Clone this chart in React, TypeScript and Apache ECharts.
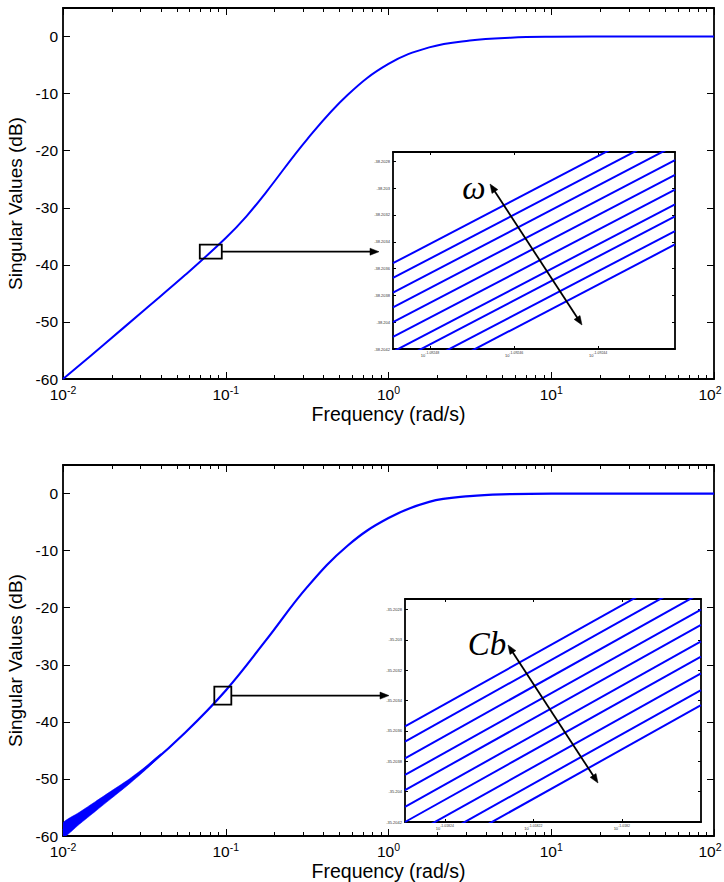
import React, { useEffect, useRef } from "react";
import * as echarts from "echarts";

// ---------- DATA ----------
// x values are log10(frequency in rad/s), y values are singular values in dB
const topLogFreq = [-2.0, -1.75, -1.5, -1.25, -1.0, -0.873, -0.75, -0.5, -0.25, 0.0, 0.25, 0.5, 0.75, 1.0, 1.5, 2.0];
const topDb = [-60.0, -54.0, -47.9, -41.8, -35.3, -31.5, -27.2, -18.0, -10.2, -4.8, -1.9, -0.7, -0.2, -0.05, 0, 0];

const botLogFreq = [-2.0, -1.75, -1.5, -1.25, -1.0, -0.75, -0.5, -0.25, 0.0, 0.25, 0.5, 0.75, 1.0, 1.5, 2.0];
const botDb = [-59.0, -53.75, -48.3, -41.9, -34.5, -25.6, -16.4, -9.1, -4.3, -1.45, -0.45, -0.1, 0.0, 0.0, 0.0];

// spread of the family of curves at low frequency (bottom panel)
const bandLogFreq = [-2.0, -1.9, -1.8, -1.7, -1.6, -1.5, -1.4];
const bandUpperDb = [-57.7, -55.85, -53.95, -52.05, -50.15, -48.0, -45.6];
const bandLowerDb = [-60.3, -57.95, -55.65, -53.35, -51.05, -48.6, -45.9];

const xMajorTicks = [-2, -1, 0, 1, 2];
const yMainTicks = [-60, -50, -40, -30, -20, -10, 0];
const yMainRange = [-60, 5];
const xMainRange = [-2, 2];

// zoomed points (the small boxes)
const topZoomPoint = [-1.092, -37.7];
const botZoomPoint = [-1.018, -35.4];

// insets
const topInsetXRange = [-1.0924888, -1.0924217];
const topInsetXTicks = [-1.09248, -1.09246, -1.09244];
const topInsetYRange = [-38.2042, -38.20273];
const topInsetYTicks = [-38.2042, -38.204, -38.2038, -38.2036, -38.2034, -38.2032, -38.203, -38.2028];
const topInsetLeftDb = [-38.20356, -38.20367, -38.20378, -38.20389, -38.204, -38.20411, -38.20422, -38.20431, -38.20442, -38.20452];
const topInsetRightDb = [-38.20246, -38.20257, -38.20268, -38.20279, -38.2029, -38.20301, -38.20312, -38.20321, -38.20332, -38.20342];

const botInsetXRange = [-1.018249, -1.0181821];
const botInsetXTicks = [-1.01824, -1.01822, -1.0182];
const botInsetYRange = [-35.2042, -35.20273];
const botInsetYTicks = [-35.2042, -35.204, -35.2038, -35.2036, -35.2034, -35.2032, -35.203, -35.2028];
const botInsetLeftDb = [-35.20357, -35.20367, -35.20378, -35.20389, -35.20399, -35.2041, -35.2042, -35.20431, -35.20442, -35.20452];
const botInsetRightDb = [-35.20248, -35.20258, -35.20269, -35.2028, -35.2029, -35.20301, -35.20311, -35.20322, -35.20333, -35.20343];

// ---------- STYLE / LAYOUT ----------
const W = 724;
const H = 882;
const FONT = "Liberation Sans";
const BLUE = "#0000ff";
const BLACK = "#000";

const minorTicks = [-2, -1, 0, 1].flatMap((d) => [2, 3, 4, 5, 6, 7, 8, 9].map((k) => d + Math.log10(k)));

const frameLine = { show: true, onZero: false, lineStyle: { color: BLACK, width: 1.8 } };
const tickLine = { color: BLACK, width: 1 };

function mainXAxes(gridIndex: number) {
  const common = {
    gridIndex,
    type: "value",
    min: xMainRange[0],
    max: xMainRange[1],
    interval: 1,
    splitLine: { show: false },
  };
  return [
    {
      ...common,
      position: "bottom",
      axisLine: frameLine,
      axisTick: { show: true, inside: true, length: 7, lineStyle: tickLine, customValues: xMajorTicks },
      axisLabel: {
        customValues: xMajorTicks,
        margin: 5,
        formatter: (v: number) =>
          v >= xMainRange[1] ? `{b|10}{e|${Math.round(v)}}` : `{b|10}{s|${Math.round(v)}}`,
        rich: {
          b: { fontSize: 15.5, fontFamily: FONT, color: BLACK, lineHeight: 18, verticalAlign: "bottom" },
          s: { fontSize: 10.5, fontFamily: FONT, color: BLACK, lineHeight: 8, verticalAlign: "top" },
          e: { fontSize: 10.5, fontFamily: FONT, color: BLACK, lineHeight: 8, verticalAlign: "top", padding: [0, 8, 0, 0] },
        },
      },
      name: "Frequency (rad/s)",
      nameLocation: "middle",
      nameGap: 25,
      nameTextStyle: { fontSize: 19.5, fontFamily: FONT, color: BLACK },
    },
    {
      ...common,
      position: "bottom",
      axisLine: { show: false, onZero: false },
      axisTick: { show: true, inside: true, length: 4, lineStyle: tickLine, customValues: minorTicks },
      axisLabel: { show: false },
    },
    {
      ...common,
      position: "top",
      axisLine: frameLine,
      axisTick: { show: true, inside: true, length: 7, lineStyle: tickLine, customValues: xMajorTicks },
      axisLabel: { show: false },
    },
    {
      ...common,
      position: "top",
      axisLine: { show: false, onZero: false },
      axisTick: { show: true, inside: true, length: 4, lineStyle: tickLine, customValues: minorTicks },
      axisLabel: { show: false },
    },
  ];
}

function mainYAxes(gridIndex: number) {
  const common = {
    gridIndex,
    type: "value",
    min: yMainRange[0],
    max: yMainRange[1],
    splitLine: { show: false },
  };
  return [
    {
      ...common,
      position: "left",
      axisLine: frameLine,
      axisTick: { show: true, inside: true, length: 7, lineStyle: tickLine, customValues: yMainTicks },
      axisLabel: { customValues: yMainTicks, fontSize: 15.5, fontFamily: FONT, color: BLACK, margin: 5 },
      name: "Singular Values (dB)",
      nameLocation: "middle",
      nameGap: 29,
      nameTextStyle: { fontSize: 19, fontFamily: FONT, color: BLACK, padding: [0, 20, 0, 0] },
    },
    {
      ...common,
      position: "right",
      axisLine: frameLine,
      axisTick: { show: true, inside: true, length: 7, lineStyle: tickLine, customValues: yMainTicks },
      axisLabel: { show: false },
    },
  ];
}

function insetXAxes(gridIndex: number, range: number[], ticks: number[]) {
  const common = { gridIndex, type: "value", min: range[0], max: range[1], splitLine: { show: false } };
  return [
    {
      ...common,
      position: "bottom",
      axisLine: frameLine,
      axisTick: { show: true, inside: true, length: 3, lineStyle: tickLine, customValues: ticks },
      axisLabel: {
        customValues: ticks,
        margin: 2,
        formatter: (v: number) => `{b|10}{s|${parseFloat(v.toFixed(5))}}`,
        rich: {
          b: { fontSize: 4, fontFamily: FONT, color: "#333", lineHeight: 6, verticalAlign: "bottom" },
          s: { fontSize: 3.5, fontFamily: FONT, color: "#333", lineHeight: 3, verticalAlign: "top" },
        },
      },
    },
    {
      ...common,
      position: "top",
      axisLine: frameLine,
      axisTick: { show: true, inside: true, length: 3, lineStyle: tickLine, customValues: ticks },
      axisLabel: { show: false },
    },
  ];
}

function insetYAxes(gridIndex: number, range: number[], ticks: number[]) {
  const common = { gridIndex, type: "value", min: range[0], max: range[1], splitLine: { show: false } };
  return [
    {
      ...common,
      position: "left",
      axisLine: frameLine,
      axisTick: { show: true, inside: true, length: 3, lineStyle: tickLine, customValues: ticks },
      axisLabel: {
        customValues: ticks,
        margin: 3,
        fontSize: 4,
        fontFamily: FONT,
        color: "#333",
        formatter: (v: number) => String(parseFloat(v.toFixed(4))),
      },
    },
    {
      ...common,
      position: "right",
      axisLine: frameLine,
      axisTick: { show: true, inside: true, length: 3, lineStyle: tickLine, customValues: ticks },
      axisLabel: { show: false },
    },
  ];
}

function insetLines(xAxisIndex: number, yAxisIndex: number, xr: number[], left: number[], right: number[]) {
  return left.map((l, i) => ({
    type: "line",
    xAxisIndex,
    yAxisIndex,
    symbol: "none",
    clip: true,
    lineStyle: { color: BLUE, width: 2 },
    data: [
      [xr[0], l],
      [xr[1], right[i]],
    ],
  }));
}

function buildOption() {
  const xAxis = [
    ...mainXAxes(0), // 0..3
    ...insetXAxes(1, topInsetXRange, topInsetXTicks), // 4,5
    ...mainXAxes(2), // 6..9
    ...insetXAxes(3, botInsetXRange, botInsetXTicks), // 10,11
  ];
  const yAxis = [
    ...mainYAxes(0), // 0,1
    ...insetYAxes(1, topInsetYRange, topInsetYTicks), // 2,3
    ...mainYAxes(2), // 4,5
    ...insetYAxes(3, botInsetYRange, botInsetYTicks), // 6,7
  ];
  const series: any[] = [];
  // 0: top main curve
  series.push({
    type: "line",
    xAxisIndex: 0,
    yAxisIndex: 0,
    symbol: "none",
    smooth: 0.4,
    clip: true,
    lineStyle: { color: BLUE, width: 2 },
    data: topLogFreq.map((x, i) => [x, topDb[i]]),
  });
  // 1..10: top inset lines
  series.push(...insetLines(4, 2, topInsetXRange, topInsetLeftDb, topInsetRightDb));
  // 11: bottom band (family spread), drawn as one filled polygon
  series.push({
    type: "custom",
    xAxisIndex: 6,
    yAxisIndex: 4,
    clip: true,
    data: bandLogFreq.map((x, i) => [x, bandLowerDb[i], bandUpperDb[i]]),
    encode: { x: 0, y: [1, 2] },
    renderItem: (params: any, api: any) => {
      if (params.dataIndex !== 0) return null;
      const upper = bandLogFreq.map((x, i) => api.coord([x, bandUpperDb[i]]));
      const lower = bandLogFreq.map((x, i) => api.coord([x, bandLowerDb[i]])).reverse();
      return {
        type: "polygon",
        shape: { points: [...upper, ...lower], smooth: 0.2 },
        style: { fill: BLUE, stroke: BLUE, lineWidth: 0.5 },
      };
    },
  });
  // 12: bottom main curve
  series.push({
    type: "line",
    xAxisIndex: 6,
    yAxisIndex: 4,
    symbol: "none",
    smooth: 0.4,
    clip: true,
    lineStyle: { color: BLUE, width: 2.2 },
    data: botLogFreq.map((x, i) => [x, botDb[i]]),
  });
  // 13..22: bottom inset lines
  series.push(...insetLines(10, 6, botInsetXRange, botInsetLeftDb, botInsetRightDb));

  return {
    animation: false,
    backgroundColor: "#fff",
    textStyle: { fontFamily: FONT },
    grid: [
      { left: 63, top: 8, width: 651, height: 371, outerBoundsMode: "none" },
      { left: 393, top: 152, width: 282, height: 197, outerBoundsMode: "none" },
      { left: 63, top: 465, width: 651, height: 371, outerBoundsMode: "none" },
      { left: 405, top: 599, width: 296, height: 223, outerBoundsMode: "none" },
    ],
    xAxis,
    yAxis,
    series,
  };
}

function arrowHead(tx: number, ty: number, fx: number, fy: number, L = 9, hw = 3.5) {
  const dx = tx - fx;
  const dy = ty - fy;
  const len = Math.hypot(dx, dy);
  const ux = dx / len;
  const uy = dy / len;
  const bx = tx - ux * L;
  const by = ty - uy * L;
  return {
    type: "polygon",
    z: 100,
    shape: { points: [[tx, ty], [bx - uy * hw, by + ux * hw], [bx + uy * hw, by - ux * hw]] },
    style: { fill: BLACK, stroke: BLACK, lineWidth: 0.5 },
  };
}

function arrowLine(x1: number, y1: number, x2: number, y2: number, L = 9) {
  const len = Math.hypot(x2 - x1, y2 - y1);
  const ux = (x2 - x1) / len;
  const uy = (y2 - y1) / len;
  return {
    type: "line",
    z: 100,
    shape: { x1, y1, x2: x2 - ux * (L - 1), y2: y2 - uy * (L - 1) },
    style: { stroke: BLACK, lineWidth: 1.8 },
  };
}

function doubleArrow(x1: number, y1: number, x2: number, y2: number) {
  const len = Math.hypot(x2 - x1, y2 - y1);
  const ux = (x2 - x1) / len;
  const uy = (y2 - y1) / len;
  return [
    {
      type: "line",
      z: 100,
      shape: { x1: x1 + ux * 8, y1: y1 + uy * 8, x2: x2 - ux * 8, y2: y2 - uy * 8 },
      style: { stroke: BLACK, lineWidth: 1.8 },
    },
    arrowHead(x1, y1, x2, y2),
    arrowHead(x2, y2, x1, y1),
  ];
}

function buildGraphics(chart: any) {
  const tp = chart.convertToPixel({ seriesIndex: 0 }, topZoomPoint);
  const bp = chart.convertToPixel({ seriesIndex: 12 }, botZoomPoint);
  const tbw = 22, tbh = 14;
  const bbw = 17, bbh = 18;
  const els: any[] = [];
  els.push({
    type: "rect",
    z: 100,
    shape: { x: tp[0] - tbw / 2, y: tp[1] - tbh / 2, width: tbw, height: tbh },
    style: { fill: "none", stroke: BLACK, lineWidth: 1.8 },
  });
  els.push(arrowLine(tp[0] + tbw / 2, tp[1], 379, tp[1]));
  els.push(arrowHead(379, tp[1], tp[0], tp[1]));
  els.push({
    type: "rect",
    z: 100,
    shape: { x: bp[0] - bbw / 2, y: bp[1] - bbh / 2, width: bbw, height: bbh },
    style: { fill: "none", stroke: BLACK, lineWidth: 1.8 },
  });
  els.push(arrowLine(bp[0] + bbw / 2, bp[1], 389, bp[1]));
  els.push(arrowHead(389, bp[1], bp[0], bp[1]));
  els.push(...doubleArrow(490, 184, 582, 325));
  els.push(...doubleArrow(508, 645, 598, 783));
  els.push({
    type: "text",
    z: 100,
    style: {
      x: 474,
      y: 188,
      text: "ω",
      fontSize: 33,
      fontStyle: "italic",
      fontFamily: "Liberation Serif",
      fill: BLACK,
      align: "center",
      verticalAlign: "middle",
    },
  });
  els.push({
    type: "text",
    z: 100,
    style: {
      x: 487,
      y: 644,
      text: "Cb",
      fontSize: 33,
      fontStyle: "italic",
      fontFamily: "Liberation Serif",
      fill: BLACK,
      align: "center",
      verticalAlign: "middle",
    },
  });
  return els;
}

export default function App() {
  const ref = useRef<HTMLDivElement>(null);
  useEffect(() => {
    if (!ref.current) return;
    const chart = echarts.init(ref.current, null, { renderer: "svg" });
    chart.setOption(buildOption() as any);
    chart.setOption({ graphic: buildGraphics(chart) } as any);
    return () => chart.dispose();
  }, []);
  return (
    <div
      ref={ref}
      style={{ position: "fixed", left: 0, top: 0, width: W, height: H, background: "#fff" }}
    />
  );
}
